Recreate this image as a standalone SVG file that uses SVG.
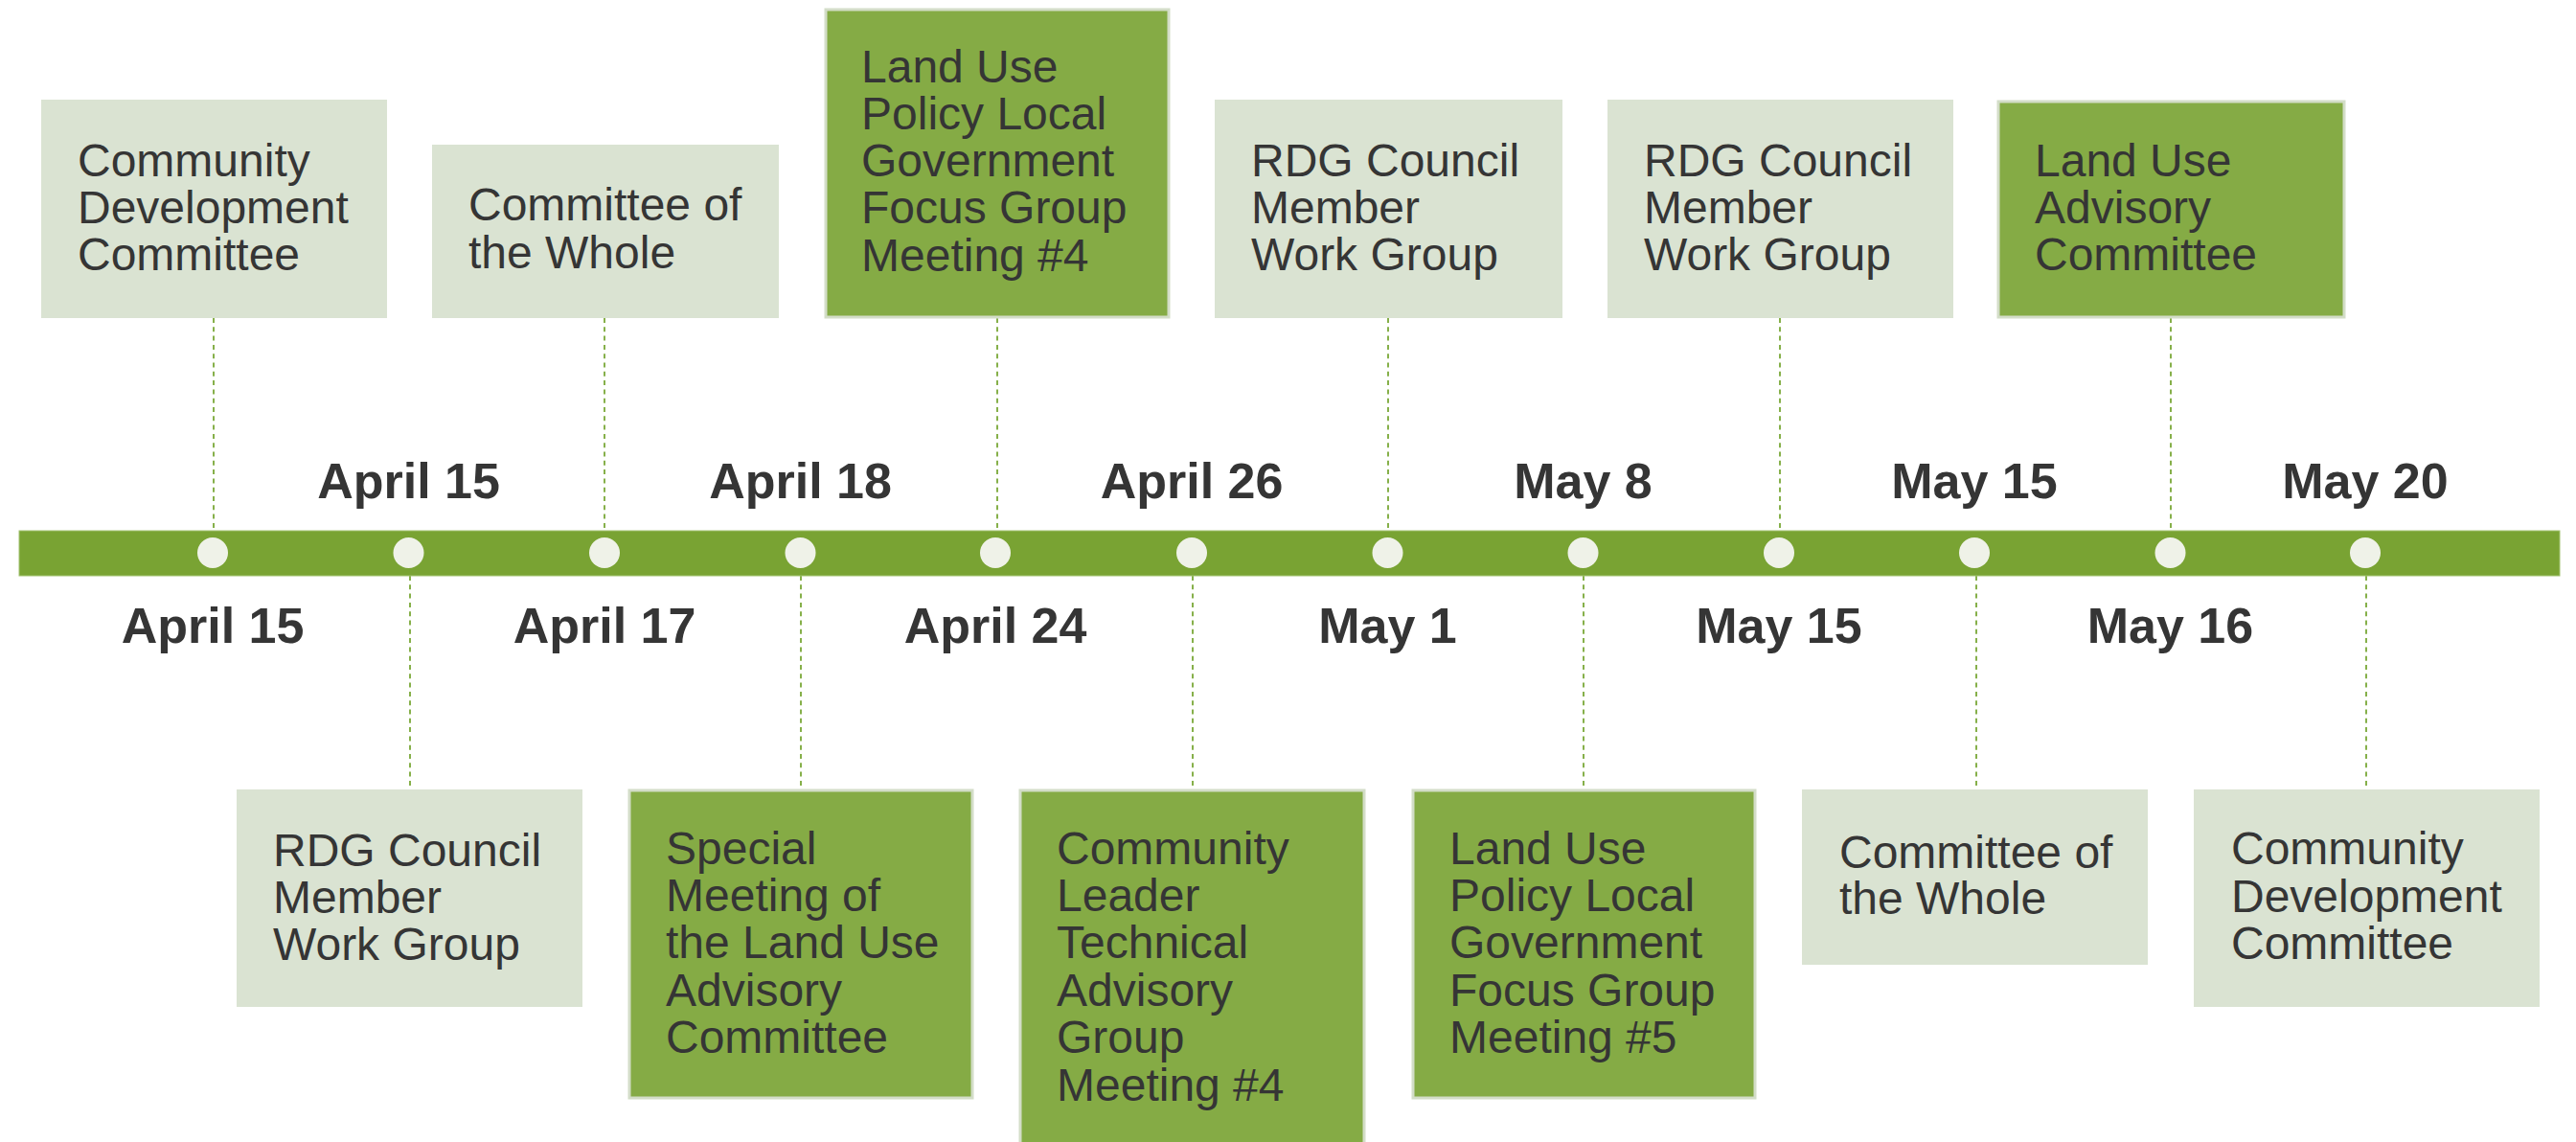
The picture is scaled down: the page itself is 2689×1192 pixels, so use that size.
<svg xmlns="http://www.w3.org/2000/svg" width="2689" height="1192" viewBox="0 0 2689 1192">
<style>
.lt{fill:#dae3d2;}
.dk{fill:#85ab45;stroke:#d3ddc8;stroke-width:3;}
.t{font-family:"Liberation Sans",Arial,sans-serif;font-size:48px;fill:#353535;}
.d{font-family:"Liberation Sans",Arial,sans-serif;font-size:52px;font-weight:bold;fill:#353535;text-anchor:middle;}
.c{stroke:#86b04a;stroke-width:2;stroke-dasharray:5 4.3;fill:none;}
.dot{fill:#eff2e8;}
</style>
<rect width="2689" height="1192" fill="#ffffff"/>
<g id="connectors">
<line class="c" x1="223" y1="332" x2="223" y2="554"/>
<line class="c" x1="631" y1="332" x2="631" y2="554"/>
<line class="c" x1="1041" y1="332" x2="1041" y2="554"/>
<line class="c" x1="1449" y1="332" x2="1449" y2="554"/>
<line class="c" x1="1858" y1="332" x2="1858" y2="554"/>
<line class="c" x1="2266" y1="332" x2="2266" y2="554"/>
<line class="c" x1="428" y1="601" x2="428" y2="824"/>
<line class="c" x1="836" y1="601" x2="836" y2="824"/>
<line class="c" x1="1245" y1="601" x2="1245" y2="824"/>
<line class="c" x1="1653" y1="601" x2="1653" y2="824"/>
<line class="c" x1="2063" y1="601" x2="2063" y2="824"/>
<line class="c" x1="2470" y1="601" x2="2470" y2="824"/>
</g>
<g id="timeline">
<rect x="20" y="554" width="2652" height="47" fill="#79a333" stroke="#a2c270" stroke-width="1"/>
<circle class="dot" cx="222" cy="577" r="16"/>
<circle class="dot" cx="426.5" cy="577" r="16"/>
<circle class="dot" cx="631" cy="577" r="16"/>
<circle class="dot" cx="835.5" cy="577" r="16"/>
<circle class="dot" cx="1039" cy="577" r="16"/>
<circle class="dot" cx="1244" cy="577" r="16"/>
<circle class="dot" cx="1448.5" cy="577" r="16"/>
<circle class="dot" cx="1652.5" cy="577" r="16"/>
<circle class="dot" cx="1857" cy="577" r="16"/>
<circle class="dot" cx="2061" cy="577" r="16"/>
<circle class="dot" cx="2265.5" cy="577" r="16"/>
<circle class="dot" cx="2469" cy="577" r="16"/>
</g>
<g id="dates">
<text class="d" x="426.5" y="520">April 15</text>
<text class="d" x="835.5" y="520">April 18</text>
<text class="d" x="1244" y="520">April 26</text>
<text class="d" x="1652.5" y="520">May 8</text>
<text class="d" x="2061" y="520">May 15</text>
<text class="d" x="2469" y="520">May 20</text>
<text class="d" x="222" y="671">April 15</text>
<text class="d" x="631" y="671">April 17</text>
<text class="d" x="1039" y="671">April 24</text>
<text class="d" x="1448.5" y="671">May 1</text>
<text class="d" x="1857" y="671">May 15</text>
<text class="d" x="2265.5" y="671">May 16</text>
</g>
<g id="n1">
<rect class="lt" x="43" y="104" width="361" height="228"/>
<text class="t" x="81" y="184">Community</text>
<text class="t" x="81" y="233">Development</text>
<text class="t" x="81" y="282">Committee</text>
</g>
<g id="n2">
<rect class="lt" x="451" y="151" width="362" height="181"/>
<text class="t" x="489" y="230">Committee of</text>
<text class="t" x="489" y="280">the Whole</text>
</g>
<g id="n3">
<rect class="dk" x="862" y="10" width="358" height="321"/>
<text class="t" x="899" y="86">Land Use</text>
<text class="t" x="899" y="135">Policy Local</text>
<text class="t" x="899" y="184">Government</text>
<text class="t" x="899" y="233">Focus Group</text>
<text class="t" x="899" y="283">Meeting #4</text>
</g>
<g id="n4">
<rect class="lt" x="1268" y="104" width="363" height="228"/>
<text class="t" x="1306" y="184">RDG Council</text>
<text class="t" x="1306" y="233">Member</text>
<text class="t" x="1306" y="282">Work Group</text>
</g>
<g id="n5">
<rect class="lt" x="1678" y="104" width="361" height="228"/>
<text class="t" x="1716" y="184">RDG Council</text>
<text class="t" x="1716" y="233">Member</text>
<text class="t" x="1716" y="282">Work Group</text>
</g>
<g id="n6">
<rect class="dk" x="2086" y="106" width="361" height="225"/>
<text class="t" x="2124" y="184">Land Use</text>
<text class="t" x="2124" y="233">Advisory</text>
<text class="t" x="2124" y="282">Committee</text>
</g>
<g id="n7">
<rect class="lt" x="247" y="824" width="361" height="227"/>
<text class="t" x="285" y="904">RDG Council</text>
<text class="t" x="285" y="953">Member</text>
<text class="t" x="285" y="1002">Work Group</text>
</g>
<g id="n8">
<rect class="dk" x="657" y="825" width="358" height="321"/>
<text class="t" x="695" y="902">Special</text>
<text class="t" x="695" y="951">Meeting of</text>
<text class="t" x="695" y="1000">the Land Use</text>
<text class="t" x="695" y="1050">Advisory</text>
<text class="t" x="695" y="1099">Committee</text>
</g>
<g id="n9">
<rect class="dk" x="1065" y="825" width="359" height="380"/>
<text class="t" x="1103" y="902">Community</text>
<text class="t" x="1103" y="951">Leader</text>
<text class="t" x="1103" y="1000">Technical</text>
<text class="t" x="1103" y="1050">Advisory</text>
<text class="t" x="1103" y="1099">Group</text>
<text class="t" x="1103" y="1149">Meeting #4</text>
</g>
<g id="n10">
<rect class="dk" x="1475" y="825" width="357" height="321"/>
<text class="t" x="1513" y="902">Land Use</text>
<text class="t" x="1513" y="951">Policy Local</text>
<text class="t" x="1513" y="1000">Government</text>
<text class="t" x="1513" y="1050">Focus Group</text>
<text class="t" x="1513" y="1099">Meeting #5</text>
</g>
<g id="n11">
<rect class="lt" x="1881" y="824" width="361" height="183"/>
<text class="t" x="1920" y="906">Committee of</text>
<text class="t" x="1920" y="954">the Whole</text>
</g>
<g id="n12">
<rect class="lt" x="2290" y="824" width="361" height="227"/>
<text class="t" x="2329" y="902">Community</text>
<text class="t" x="2329" y="952">Development</text>
<text class="t" x="2329" y="1001">Committee</text>
</g>
</svg>
